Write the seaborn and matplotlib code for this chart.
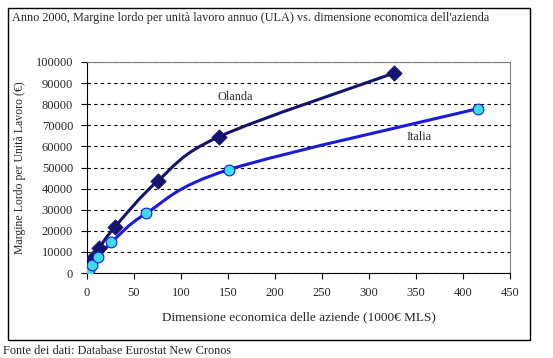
import seaborn as sns
import matplotlib.pyplot as plt
import matplotlib.patches as mpatches
from matplotlib.path import Path
import pandas as pd
import numpy as np

# values
olanda_x = [6, 13, 30, 75, 140, 327]
olanda_y = [7300, 12000, 22000, 43500, 64500, 94800]
italia_x = [2, 5, 12, 26, 63, 151, 416]
italia_y = [1400, 3800, 7400, 14500, 28300, 49000, 77900]

x_ticks = list(range(0, 451, 50))
y_ticks = list(range(0, 100001, 10000))

sns.set_style('white')
plt.rcParams['font.family'] = ['Liberation Serif', 'DejaVu Serif']
plt.rcParams['font.size'] = 8.5


def smooth_path(xs, ys):
    # Excel-like smoothed line: cubic bezier with catmull-rom control points
    pts = np.column_stack([xs, ys]).astype(float)
    verts = [pts[0]]
    codes = [Path.MOVETO]
    n = len(pts)
    for i in range(n - 1):
        p0 = pts[i - 1] if i > 0 else pts[i]
        p1 = pts[i]
        p2 = pts[i + 1]
        p3 = pts[i + 2] if i + 2 < n else pts[i + 1]
        c1 = p1 + (p2 - p0) / 6
        c2 = p2 - (p3 - p1) / 6
        verts += [c1, c2, p2]
        codes += [Path.CURVE4] * 3
    return Path(verts, codes)


df = pd.concat([
    pd.DataFrame({'x': olanda_x, 'y': olanda_y, 'paese': 'Olanda'}),
    pd.DataFrame({'x': italia_x, 'y': italia_y, 'paese': 'Italia'}),
])

fig = plt.figure(figsize=(5.53, 3.58), dpi=100)
ax = fig.add_axes([87 / 553, 1 - 273 / 358, (510 - 87) / 553, (273 - 62) / 358])

ax.add_patch(mpatches.PathPatch(smooth_path(olanda_x, olanda_y), fill=False,
                                edgecolor='#14146e', lw=2.2, zorder=3))
ax.add_patch(mpatches.PathPatch(smooth_path(italia_x, italia_y), fill=False,
                                edgecolor='#1a1ae0', lw=2.2, zorder=3))

sns.scatterplot(data=df[df.paese == 'Olanda'], x='x', y='y', marker='D', s=60,
                color='#14146e', edgecolor='#14146e', ax=ax, zorder=4, legend=False)
sns.scatterplot(data=df[df.paese == 'Italia'], x='x', y='y', marker='o', s=60,
                color='#3ddcec', edgecolor='#1a1ae0', linewidth=0.8, ax=ax, zorder=4,
                legend=False)

ax.set_xlim(0, 450)
ax.set_ylim(0, 100000)
ax.set_xticks(x_ticks)
ax.set_yticks(y_ticks)
ax.yaxis.grid(True, linestyle=(0, (3, 3)), color='black', lw=0.8)
ax.tick_params(axis='both', direction='out', length=4, width=0.8, color='black',
               labelsize=9, pad=6, left=True, bottom=True)
for side in ['left', 'bottom']:
    ax.spines[side].set_color('black')
for side in ['top', 'right']:
    ax.spines[side].set_color('#808080')

ax.set_xlabel('Dimensione economica delle aziende (1000€ MLS)', fontsize=9.5, labelpad=9)
ax.set_ylabel('Margine Lordo per Unità Lavoro (€)', fontsize=8.5, labelpad=7)

ax.text(139, 83500, 'Olanda', fontsize=8.8, va='center')
ax.text(340, 64500, 'Italia', fontsize=8.8, va='center')

fig.text(12 / 553, 1 - 18 / 358,
         "Anno 2000, Margine lordo per unità lavoro annuo (ULA) vs. dimensione economica dell'azienda",
         fontsize=8.8, va='center', ha='left')
fig.text(3 / 553, 1 - 351 / 358, 'Fonte dei dati: Database Eurostat New Cronos',
         fontsize=8.8, va='center', ha='left')
fig.patches.append(mpatches.Rectangle((8 / 553, 1 - 340 / 358), (530 - 8) / 553, (340 - 8) / 358,
                                      transform=fig.transFigure, fill=False,
                                      edgecolor='black', lw=1))

fig.savefig('out.png', dpi=100)
